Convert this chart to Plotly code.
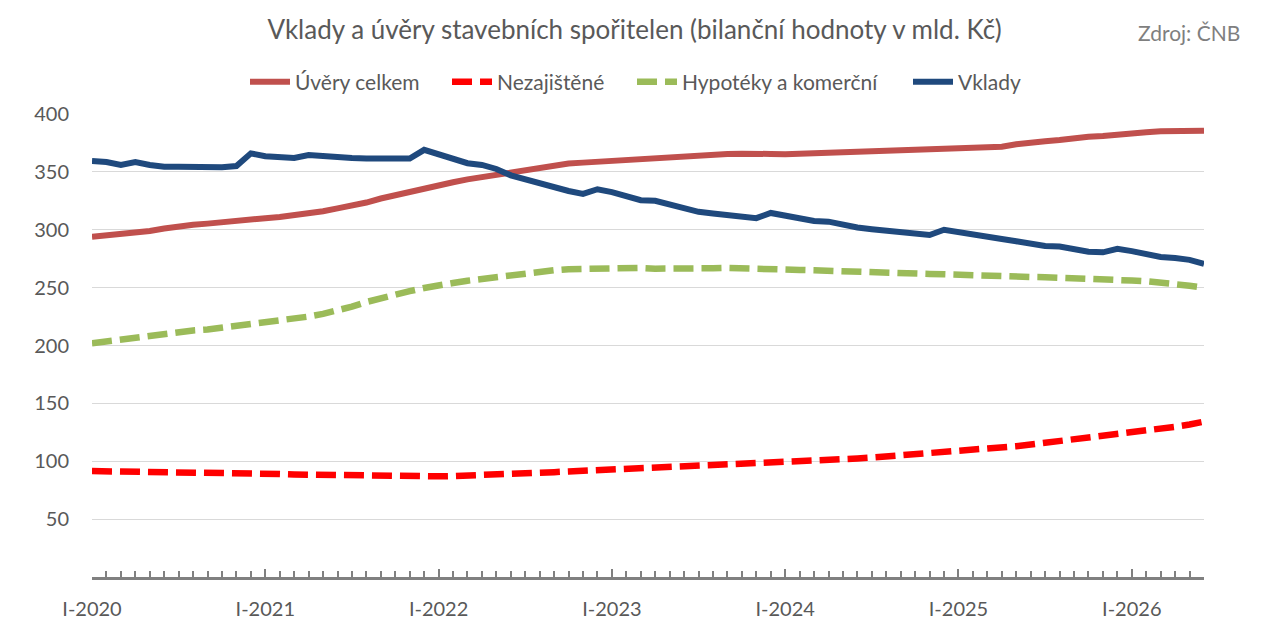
import plotly.graph_objects as go

# monthly data, I-2020 .. VI-2026 (78 months), bil. CZK
roman = ["I", "II", "III", "IV", "V", "VI", "VII", "VIII", "IX", "X", "XI", "XII"]
months = [f"{r}-{y}" for y in range(2020, 2027) for r in roman][:78]

uvery_celkem = [
    294, 295, 296.5, 297.3, 299, 301, 303, 304.3, 305.3, 306.7, 308, 309,
    310, 311, 312.5, 313.5, 316, 318.5, 320.5, 323.5, 327, 330, 333, 336,
    338.5, 341, 343.5, 345.5, 347, 349.6, 352, 354, 356, 357.2, 358, 358.8,
    359.7, 360.6, 361, 361.4, 362.6, 363.4, 364, 364.6, 365.5, 365.7, 366, 365.5,
    365.2, 365.7, 366, 366.3, 366.9, 367.3, 367.8, 368.3, 368.8, 369.3, 369.8, 370,
    370.4, 370.9, 371, 371.8, 373.8, 375.5, 376.5, 377.5, 379.3, 380.4, 381, 382.5,
    383.5, 384.3, 385, 385.3, 385.6, 385.6,
]

nezajistene = [
    91.5, 91.4, 91.3, 91.3, 91.2, 91.1, 91.0, 90.9, 90.7, 90.4, 90.1, 89.8,
    89.5, 89.0, 88.6, 88.3, 88.0, 87.9, 87.8, 87.4, 87.2, 87.1, 87.0, 87.0,
    87.0, 87.2, 87.5, 88.0, 88.5, 89.0, 89.5, 90.0, 90.6, 91.2, 91.7, 92.2,
    92.7, 93.2, 93.7, 94.3, 95.0, 95.6, 96.3, 96.9, 97.5, 98.0, 98.4, 98.8,
    99.2, 99.7, 100.3, 100.9, 101.6, 102.4, 103.2, 104.1, 104.9, 105.8, 106.8, 107.6,
    108.4, 109.5, 110.6, 111.7, 113.0, 114.4, 115.8, 117.2, 118.7, 120.1, 121.6, 123.2,
    124.6, 126.2, 127.8, 129.8, 131.7, 134.2,
]

hypoteky = [
    202, 203.7, 205, 206.6, 208.3, 210, 211.5, 213, 213.8, 215.2, 217, 218.7,
    220, 221.5, 223, 225, 227.3, 230.2, 233.6, 237.6, 241, 244, 247, 249.7,
    252.3, 254, 256, 257.5, 259, 261.3, 263, 264.1, 265, 265.9, 266.2, 266.4,
    267, 267, 267, 266.4, 266.2, 266.2, 266.4, 266.7, 267, 266.4, 266.2, 265.9,
    265.6, 265.3, 265, 264.5, 263.6, 263.3, 263.3, 262.7, 262.1, 261.8, 261.8, 261.5,
    261, 260.1, 259.5, 259.2, 259.2, 259.2, 259, 258.7, 258.4, 258.1, 257.3, 256.7,
    256.1, 255.5, 254.6, 253.2, 251.7, 250,
]

vklady = [
    359.5, 358.5, 356, 358.5, 356, 354.5, 354.5, 354.5, 353.5, 354, 355, 366,
    363.5, 363, 362, 364.5, 363.5, 362, 362, 361.5, 361.5, 361.5, 361.5, 369,
    365, 362, 357.5, 356, 352.5, 347, 343.5, 340, 336.5, 333.5, 331, 335,
    332.5, 329, 325.5, 325, 321.5, 318, 315.5, 314, 312.5, 311, 310, 314.5,
    312, 309.5, 307.5, 307, 304, 302, 300.5, 299.3, 297.5, 296.5, 295.5, 300,
    297.8, 295.5, 293, 292, 290, 287.5, 286, 285.5, 283.5, 281, 280.5, 283.5,
    281.5, 279, 276.5, 275.5, 274, 270.5,
]

y_ticks = [50, 100, 150, 200, 250, 300, 350, 400]

FONT = "Lato"
GREY = "#595959"

# page has an 8px body margin, so the figure is a bit smaller than the window
W, H = 1261, 623
ML, MR, MT, MB = 84, 65, 106, 54

x = list(range(len(months)))
jan_idx = [i for i, m in enumerate(months) if m.startswith("I-")]

fig = go.Figure()

fig.add_trace(go.Scatter(
    x=x, y=uvery_celkem, mode='lines', name="Úvěry celkem", legend='legend',
    line=dict(color='#C0504D', width=6)
))
fig.add_trace(go.Scatter(
    x=x, y=nezajistene, mode='lines', name="Nezajištěné", legend='legend2',
    line=dict(color='#FF0000', width=6.5, dash='20px,8px')
))
fig.add_trace(go.Scatter(
    x=x, y=hypoteky, mode='lines', name="Hypotéky a komerční", legend='legend3',
    line=dict(color='#9BBB59', width=6.5, dash='20px,8px')
))
fig.add_trace(go.Scatter(
    x=x, y=vklady, mode='lines', name="Vklady", legend='legend4',
    line=dict(color='#1F497D', width=6)
))

# one legend per series, so the entries sit where they are in the original
legend_x = [237, 439, 624, 900]
legend_style = dict(
    orientation='h', xref='container', yref='container',
    xanchor='left', yanchor='middle', y=1 - 74 / H,
    font=dict(family=FONT, size=21, color=GREY),
    itemwidth=40, bgcolor='rgba(0,0,0,0)', borderwidth=0,
)

fig.update_layout(
    width=W, height=H,
    paper_bgcolor='white', plot_bgcolor='white',
    margin=dict(l=ML, r=MR, t=MT, b=MB),
    font=dict(family=FONT, color=GREY),
    title=dict(
        text="Vklady a úvěry stavebních spořitelen (bilanční hodnoty v mld. Kč)",
        x=626.5 / W, xref='container', xanchor='center',
        y=1 - 22 / H, yref='container', yanchor='middle',
        font=dict(family=FONT, size=26, color=GREY)
    ),
    legend=dict(legend_style, x=legend_x[0] / W),
    legend2=dict(legend_style, x=legend_x[1] / W),
    legend3=dict(legend_style, x=legend_x[2] / W),
    legend4=dict(legend_style, x=legend_x[3] / W),
    showlegend=True,
)

pw, ph = W - ML - MR, H - MT - MB
fig.add_annotation(
    text="Zdroj: ČNB", xref='paper', yref='paper',
    x=(1234 - ML) / pw, y=(H - MB - 24) / ph,
    xanchor='right', yanchor='middle',
    showarrow=False, font=dict(family=FONT, size=21, color='#7F7F7F')
)

fig.update_xaxes(
    range=[0, len(months) - 1], automargin=False,
    tickvals=jan_idx, ticktext=[months[i] for i in jan_idx],
    ticks='inside', ticklen=8, tickwidth=2, tickcolor='#808080',
    minor=dict(dtick=1, tick0=0, ticks='inside', ticklen=6, tickwidth=2, tickcolor='#808080'),
    showline=True, linecolor='#808080', linewidth=3,
    showgrid=False, zeroline=False,
    tickfont=dict(family=FONT, size=20, color=GREY),
    ticklabelstandoff=12,
)
fig.update_yaxes(
    range=[0, 400], tickvals=y_ticks, automargin=False,
    showgrid=True, gridcolor='#D9D9D9', gridwidth=1,
    zeroline=False, showline=False, ticks='',
    tickfont=dict(family=FONT, size=20, color=GREY),
    ticklabelstandoff=22,
)

fig.write_html("out.html")
